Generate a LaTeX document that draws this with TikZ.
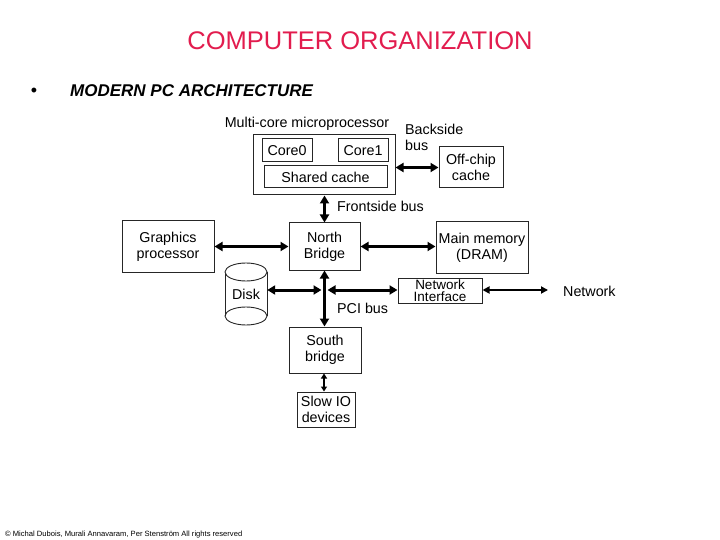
\documentclass[tikz,border=0pt]{standalone}
\usepackage{fontspec}
\setmainfont{Liberation Sans}
\usetikzlibrary{arrows.meta}
\definecolor{titlered}{RGB}{226,28,78}
\tikzset{
  box/.style={draw=black!85, line width=1pt, inner sep=0pt, align=center,
    font=\fontsize{14.3}{16}\selectfont},
  lbl/.style={inner sep=0pt, font=\fontsize{14.3}{16}\selectfont},
  bus/.style={line width=3pt, {Triangle[length=8pt,width=9pt]}-{Triangle[length=8pt,width=9pt]}},
  thinbus/.style={line width=2pt, {Triangle[length=7pt,width=7pt]}-{Triangle[length=7pt,width=7pt]}},
  smallbus/.style={line width=1.3pt, {Triangle[length=5pt,width=6pt]}-{Triangle[length=5pt,width=6pt]}}
}
\begin{document}
\begin{tikzpicture}[x=1pt,y=-1pt]
\useasboundingbox (0,0) rectangle (720,540);
% titles
\node[inner sep=0pt, text=titlered, font=\fontsize{25.5}{28}\selectfont] (title) at (360,41) {COMPUTER ORGANIZATION};
\node[inner sep=0pt, font=\fontsize{18}{20}\selectfont] (bullet) at (34,92) {•};
\node[inner sep=0pt, anchor=west, font=\fontsize{17}{20}\selectfont\bfseries\itshape] (sub) at (70,91) {MODERN PC ARCHITECTURE};
% processor
\node[lbl] (mlabel) at (307,124) {Multi-core microprocessor};
\node[box, minimum width=142pt, minimum height=60pt] (proc) at (324,165) {};
\node[box, minimum width=50pt, minimum height=23pt] (core0) at (287,150.5) {Core0};
\node[box, minimum width=50pt, minimum height=23pt] (core1) at (363,150.5) {Core1};
\node[box, minimum width=123pt, minimum height=22pt] (shared) at (325.5,177) {Shared cache};
\node[box, minimum width=64pt, minimum height=41pt] (offchip) at (471,167.5) {Off-chip\\cache};
\node[lbl, anchor=north west, align=left] (backside) at (405,124) {Backside\\bus};
\draw[bus] (offchip.west) -- (offchip.west -| proc.east);
% north bridge etc.
\node[box, minimum width=71pt, minimum height=47pt] (nb) at (324.5,246.5) {North\\Bridge};
\node[box, minimum width=92pt, minimum height=51pt] (gp) at (168,246.5) {Graphics\\processor};
\node[box, minimum width=92pt, minimum height=51pt] (mm) at (482,247.5) {Main memory\\(DRAM)};
\node[lbl, anchor=west] (front) at (337,206) {Frontside bus};
\draw[bus] (proc.south -| nb.north) -- (nb.north);
\draw[bus] (gp.east) -- (gp.east -| nb.west);
\draw[bus] (nb.east) -- (nb.east -| mm.west);
% network interface
\node[box, minimum width=84pt, minimum height=25pt, font=\fontsize{13.5}{12}\selectfont] (netif) at (440,290.5) {Network\\Interface};
\node[lbl, anchor=west] (net) at (563,291) {Network};
\draw[thinbus] (netif.east |- 0,290) -- ([xshift=-15pt]net.west |- 0,290);
% disk
\node[lbl, minimum width=42pt, minimum height=44pt] (disk) at (246,294) {Disk};
\draw[line width=0.9pt, draw=black!85] (225,272) -- (225,316) (267,272) -- (267,316);
\draw[line width=0.9pt, draw=black!85, fill=white] (246,272) ellipse [x radius=21pt, y radius=9pt];
\draw[line width=0.9pt, draw=black!85] (246,316) ellipse [x radius=21pt, y radius=9pt];
% south bridge
\node[box, minimum width=72pt, minimum height=46pt] (sb) at (325,350) {South\\bridge};
\node[box, minimum width=58pt, minimum height=35pt] (slow) at (326,409.5) {Slow IO\\devices};
\node[lbl, anchor=west] (pci) at (337,308) {PCI bus};
% PCI bus
\coordinate (jl) at (321.5,290);
\coordinate (jr) at (327.5,290);
\draw[bus] (nb.south) -- (nb.south |- sb.north);
\draw[bus] (disk.east |- jl) -- (jl);
\draw[bus] (jr) -- (jr -| netif.west);
\draw[smallbus] (sb.south -| 324,0) -- (324,0 |- slow.north);
% footer
\node[inner sep=0pt, anchor=west, font=\fontsize{7.6}{8}\selectfont] (foot) at (5,535) {© Michal Dubois, Murali Annavaram, Per Stenström All rights reserved};
\end{tikzpicture}
\end{document}
